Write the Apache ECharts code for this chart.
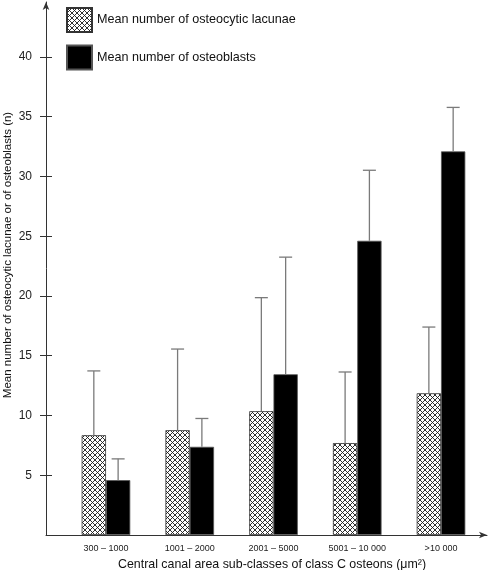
<!DOCTYPE html>
<html>
<head>
<meta charset="utf-8">
<script src="https://cdn.jsdelivr.net/npm/echarts@6/dist/echarts.min.js"></script>
<style>
html,body{margin:0;padding:0;background:#fff;}
#chart{width:489px;height:570px;}
</style>
</head>
<body>
<div id="chart"></div>
<script>
// ---- data ----
const categories = ['300 – 1000', '1001 – 2000', '2001 – 5000', '5001 – 10 000', '>10 000'];
const lacunaeMean = [8.35, 8.77, 10.36, 7.69, 11.86];
const lacunaeUpper = [13.73, 15.56, 19.86, 13.64, 17.4];
const osteoblastMean = [4.59, 7.38, 13.45, 24.62, 32.1];
const osteoblastUpper = [6.37, 9.75, 23.25, 30.52, 35.78];
const yTickValues = [5, 10, 15, 20, 25, 30, 35, 40];
const seriesNames = ['Mean number of osteocytic lacunae', 'Mean number of osteoblasts'];

// ---- hatch pattern ----
function makeHatch() {
  const t = 5;
  const c = document.createElement('canvas');
  c.width = t; c.height = t;
  const g = c.getContext('2d');
  g.fillStyle = '#fff';
  g.fillRect(0, 0, t, t);
  g.strokeStyle = '#1a1a1a';
  g.lineWidth = 0.9;
  for (let k = -1; k <= 1; k++) {
    g.beginPath(); g.moveTo(k * t, 0); g.lineTo(k * t + t, t); g.stroke();
    g.beginPath(); g.moveTo(k * t + t, 0); g.lineTo(k * t, t); g.stroke();
  }
  return c;
}
const hatch = { image: makeHatch(), repeat: 'repeat' };

const BAR_W = 24.3;
const FONT = '"Liberation Sans", Arial, Helvetica, sans-serif';

function errSeries(means, uppers, side) {
  return {
    type: 'custom',
    silent: true,
    z: 3,
    data: means.map((m, i) => [i, m, uppers[i]]),
    renderItem: function (params, api) {
      const i = api.value(0);
      const p0 = api.coord([i, api.value(1)]);
      const p1 = api.coord([i, api.value(2)]);
      const x = p0[0] + side * BAR_W / 2;
      const style = { stroke: '#7a7a7a', lineWidth: 1.3 };
      return {
        type: 'group',
        children: [
          { type: 'line', shape: { x1: x, y1: p0[1], x2: x, y2: p1[1] }, style: style },
          { type: 'line', shape: { x1: x - 6.5, y1: p1[1], x2: x + 6.5, y2: p1[1] }, style: style }
        ]
      };
    }
  };
}

const chart = echarts.init(document.getElementById('chart'), null, { renderer: 'canvas' });
chart.setOption({
  animation: false,
  backgroundColor: '#fff',
  textStyle: { fontFamily: FONT },
  legend: {
    data: seriesNames,
    orient: 'vertical',
    left: 61,
    top: 2,
    itemWidth: 25,
    itemHeight: 24,
    itemGap: 11.4,
    icon: 'rect',
    textStyle: { fontSize: 12.6, color: '#111', fontFamily: FONT }
  },
  grid: { left: 46, right: 2, top: 2, bottom: 35, outerBoundsMode: 'none', containLabel: false },
  xAxis: {
    type: 'value',
    min: -0.716,
    max: 4.549,
    name: 'Central canal area sub-classes of class C osteons (μm²)',
    nameLocation: 'middle',
    nameGap: 24,
    nameMoveOverlap: false,
    nameTextStyle: { fontSize: 12.4, color: '#111', padding: [0, 0, 0, 11], fontFamily: FONT },
    axisLine: { show: true, onZero: false, symbol: ['none', 'arrow'], symbolSize: [5, 8], lineStyle: { color: '#333', width: 1 } },
    axisTick: { show: false },
    splitLine: { show: false },
    axisLabel: {
      customValues: [0, 1, 2, 3, 4],
      formatter: v => categories[Math.round(v)],
      fontSize: 9, color: '#222', margin: 9, fontFamily: FONT
    }
  },
  yAxis: [{
    type: 'value',
    min: 0,
    max: 44.6,
    position: 'left',
    name: 'Mean number of osteocytic lacunae or of osteoblasts (n)',
    nameLocation: 'middle',
    nameRotate: 90,
    nameGap: 32,
    nameMoveOverlap: false,
    nameTextStyle: { fontSize: 11.5, color: '#111', padding: [0, 0, 0, 27], fontFamily: FONT },
    axisLine: { show: true, onZero: false, symbol: ['none', 'arrow'], symbolSize: [5, 8], lineStyle: { color: '#333', width: 1 } },
    axisTick: { show: true, customValues: yTickValues, length: 6, lineStyle: { color: '#333' } },
    splitLine: { show: false },
    axisLabel: { customValues: yTickValues, fontSize: 12, color: '#222', margin: 14, fontFamily: FONT }
  }, {
    type: 'value',
    min: 0,
    max: 44.6,
    position: 'left',
    offset: 0,
    axisLine: { show: false, onZero: false },
    axisTick: { show: true, inside: true, customValues: yTickValues, length: 6, lineStyle: { color: '#333' } },
    axisLabel: { show: false },
    splitLine: { show: false }
  }],
  series: [
    {
      name: seriesNames[0],
      type: 'bar',
      barWidth: BAR_W,
      barGap: '0%',
      z: 2,
      itemStyle: { color: hatch, borderColor: '#333', borderWidth: 0.8 },
      data: lacunaeMean.map((v, i) => [i, v])
    },
    {
      name: seriesNames[1],
      type: 'bar',
      barWidth: BAR_W,
      barGap: '0%',
      z: 2,
      itemStyle: { color: '#000', borderColor: '#555', borderWidth: 0.8 },
      data: osteoblastMean.map((v, i) => [i, v])
    },
    errSeries(lacunaeMean, lacunaeUpper, -1),
    errSeries(osteoblastMean, osteoblastUpper, 1)
  ]
});
</script>
</body>
</html>
